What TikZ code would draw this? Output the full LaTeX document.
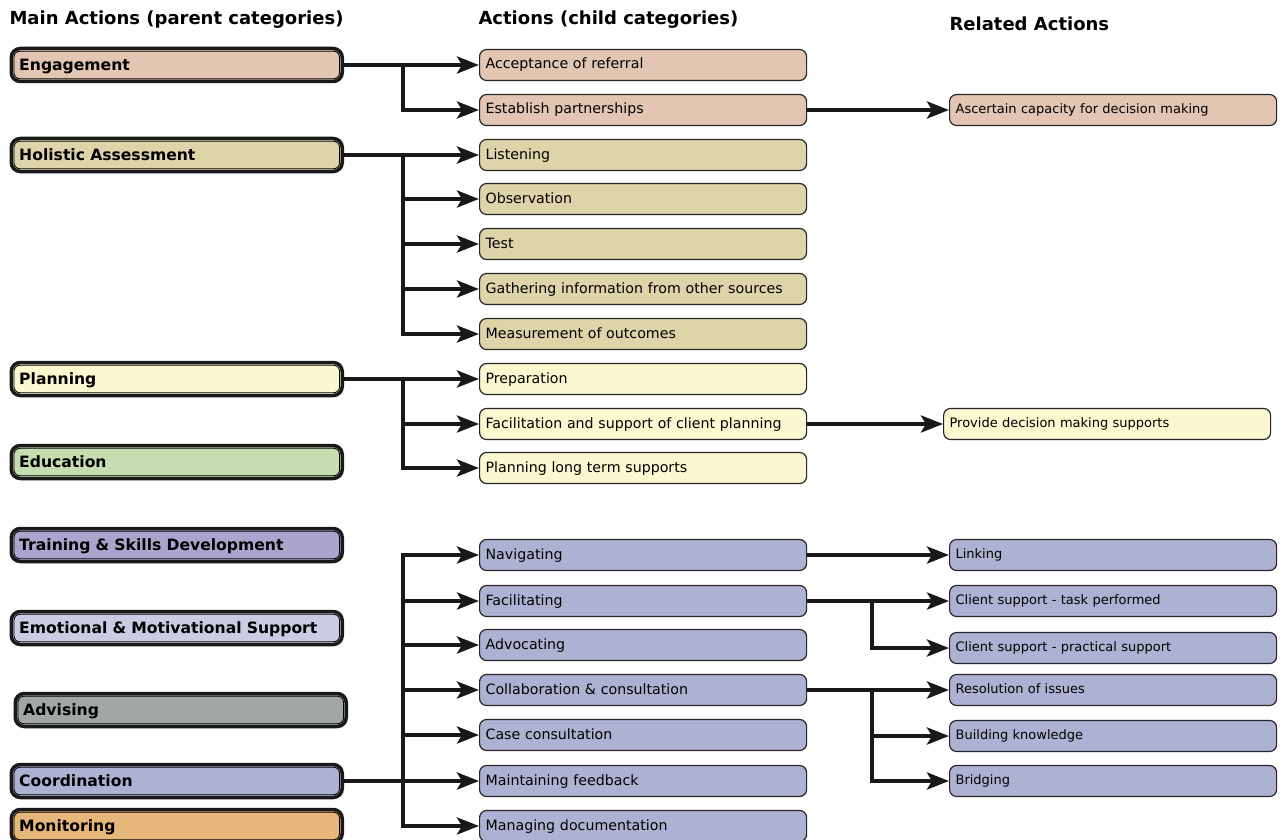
\documentclass[tikz,border=0pt]{standalone}
\usepackage{fontspec}
\setmainfont{DejaVu Sans}
\usepackage{xcolor}
\usetikzlibrary{arrows.meta,positioning}
\definecolor{engcol}{HTML}{E2C5B3}
\definecolor{holcol}{HTML}{DED4A9}
\definecolor{placol}{HTML}{FAF8CF}
\definecolor{educol}{HTML}{C6DDB1}
\definecolor{tracol}{HTML}{A9A5CD}
\definecolor{emocol}{HTML}{CACCE4}
\definecolor{advcol}{HTML}{A0A7A4}
\definecolor{coocol}{HTML}{AEB2D2}
\definecolor{moncol}{HTML}{E6B67B}

\begin{document}
\begin{tikzpicture}[x=1pt,y=-1pt,
  parent/.style={draw=black!90, line width=3.5pt, rounded corners=9pt, anchor=west,
    minimum height=33pt, text width=315pt, inner xsep=8pt,
    text height=10.4pt, text depth=0pt,
    font=\fontsize{15.6}{18}\selectfont\bfseries},
  child/.style={draw=black!85, line width=1.2pt, rounded corners=7pt, anchor=west,
    minimum height=31pt, text width=315pt, inner xsep=6pt,
    text height=8pt, text depth=0pt,
    font=\fontsize{14.2}{17}\selectfont},
  related/.style={child, text height=7.5pt, font=\fontsize{13}{15}\selectfont},
  link/.style={draw=black!90, line width=4pt, -{Stealth[length=22pt,width=17pt,inset=5pt]}},
  heading/.style={anchor=west, font=\fontsize{18}{21}\selectfont\bfseries}]

\useasboundingbox (0,0) rectangle (1282,840);

% Column headings
\node[heading] (h1) at (6,20) {Main Actions (parent categories)};
\node[heading] (h2) at (475,20) {Actions (child categories)};
\node[heading] (h3) at (946,24) {Related Actions};

% Main actions (parent categories)
\node[parent, fill=engcol] (eng) at (9.5,65) {Engagement};
\node[parent, fill=holcol] (hol) at (9.5,155) {Holistic Assessment};
\node[parent, fill=placol] (pla) at (9.5,379) {Planning};
\node[parent, fill=educol] (edu) at (9.5,462) {Education};
\node[parent, fill=tracol] (tra) at (9.5,545) {Training \& Skills Development};
\node[parent, fill=emocol] (emo) at (9.5,628) {Emotional \& Motivational Support};
\node[parent, fill=advcol] (adv) at (13.5,710) {Advising};
\node[parent, fill=coocol] (coo) at (9.5,781) {Coordination};
\node[parent, fill=moncol] (mon) at (9.5,826) {Monitoring};
% inner outline of the parent boxes
\foreach \n in {eng,hol,pla,edu,tra,emo,adv,coo,mon}
  \draw[line width=0.8pt, rounded corners=6pt]
    ([shift={(4.5pt,-4.5pt)}]\n.north west) rectangle ([shift={(-4.5pt,4.5pt)}]\n.south east);

% Actions (child categories)
\node[child, fill=engcol] (acc) at (479,65) {Acceptance of referral};
\node[child, fill=engcol] (est) at (479,110) {Establish partnerships};
\node[child, fill=holcol] (lis) at (479,155) {Listening};
\node[child, fill=holcol] (obs) at (479,199) {Observation};
\node[child, fill=holcol] (tes) at (479,244) {Test};
\node[child, fill=holcol] (gat) at (479,289) {Gathering information from other sources};
\node[child, fill=holcol] (mea) at (479,334) {Measurement of outcomes};
\node[child, fill=placol] (pre) at (479,379) {Preparation};
\node[child, fill=placol] (fcp) at (479,424) {Facilitation and support of client planning};
\node[child, fill=placol] (plt) at (479,468) {Planning long term supports};
\node[child, fill=coocol] (nav) at (479,555) {Navigating};
\node[child, fill=coocol] (fac) at (479,601) {Facilitating};
\node[child, fill=coocol] (adc) at (479,645) {Advocating};
\node[child, fill=coocol] (col) at (479,690) {Collaboration \& consultation};
\node[child, fill=coocol] (cas) at (479,735) {Case consultation};
\node[child, fill=coocol] (mai) at (479,781) {Maintaining feedback};
\node[child, fill=coocol] (doc) at (479,826) {Managing documentation};

% Related actions
\node[related, fill=engcol] (asc) at (949,110) {Ascertain capacity for decision making};
\node[related, fill=placol] (pdm) at (943,424) {Provide decision making supports};
\node[related, fill=coocol] (lin) at (949,555) {Linking};
\node[related, fill=coocol] (cst) at (949,601) {Client support - task performed};
\node[related, fill=coocol] (csp) at (949,648) {Client support - practical support};
\node[related, fill=coocol] (res) at (949,690) {Resolution of issues};
\node[related, fill=coocol] (bui) at (949,736) {Building knowledge};
\node[related, fill=coocol] (bri) at (949,781) {Bridging};

% Branch points
\coordinate (je) at (403,65);
\coordinate (jh) at (403,155);
\coordinate (jp) at (403,379);
\coordinate (jct) at (403,555);
\coordinate (jcb) at (403,826);
\coordinate (jf) at (872,601);
\coordinate (jc) at (872,690);

% Engagement
\draw[link] (eng.east) -- (acc.west);
\draw[link] (je) |- (est.west);
\draw[link] (est.east) -- (asc.west);
% Holistic assessment
\draw[link] (hol.east) -- (lis.west);
\draw[link] (jh) |- (obs.west);
\draw[link] (jh) |- (tes.west);
\draw[link] (jh) |- (gat.west);
\draw[link] (jh) |- (mea.west);
% Planning
\draw[link] (pla.east) -- (pre.west);
\draw[link] (jp) |- (fcp.west);
\draw[link] (jp) |- (plt.west);
\draw[link] (fcp.east) -- (pdm.west);
% Coordination
\draw[link] (coo.east) -- (mai.west);
\draw[link] (jcb) |- (nav.west);
\draw[link] (jct) |- (doc.west);
\draw[link] (jct |- fac.west) -- (fac.west);
\draw[link] (jct |- adc.west) -- (adc.west);
\draw[link] (jct |- col.west) -- (col.west);
\draw[link] (jct |- cas.west) -- (cas.west);
\draw[link] (nav.east) -- (lin.west);
\draw[link] (fac.east) -- (cst.west);
\draw[link] (jf) |- (csp.west);
\draw[link] (col.east) -- (res.west);
\draw[link] (jc) |- (bui.west);
\draw[link] (jc) |- (bri.west);

\end{tikzpicture}
\end{document}
